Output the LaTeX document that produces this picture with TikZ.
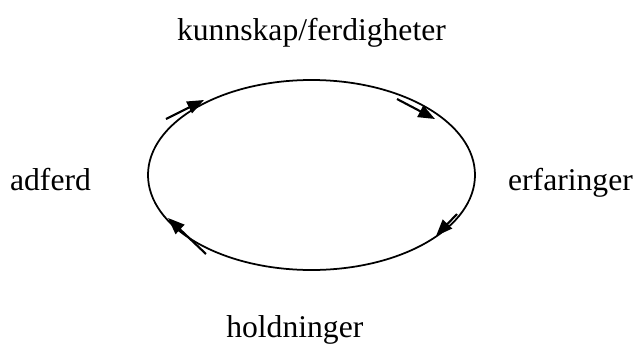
\documentclass[tikz,border=0pt]{standalone}
\usepackage{fontspec}
\setmainfont{Liberation Serif}
\usetikzlibrary{arrows.meta}

\begin{document}
\begin{tikzpicture}[>={Triangle[length=5mm,width=3.8mm]},
 lbl/.style={anchor=base,inner sep=0pt},step arrow/.style={->,line width=1.8pt},
 font=\fontsize{27}{32}\selectfont]
\useasboundingbox (-9.345,5.25) rectangle (9.705,-5.13);
\draw[line width=1.5pt] (0,0) ellipse (4.905cm and 2.85cm);
\node[lbl] (kunn) at (0,4.05) {kunnskap/ferdigheter};
\node[lbl] (erf) at (7.77,-.45) {erfaringer};
\node[lbl] (hold) at (-.5,-4.86) {holdninger};
\node[lbl] (adf) at (-7.83,-.45) {adferd};
% arrows along the circle
\coordinate (a1) at (-4.365,1.68); \coordinate (b1) at (-3.225,2.25);
\coordinate (a2) at (2.565,2.28); \coordinate (b2) at (3.705,1.68);
\coordinate (a3) at (4.365,-1.17); \coordinate (b3) at (3.735,-1.83);
\coordinate (a4) at (-3.165,-2.37); \coordinate (b4) at (-4.305,-1.29);
\draw[step arrow] (a1) -- (b1);
\draw[step arrow] (a2) -- (b2);
\draw[step arrow] (a3) -- (b3);
\draw[step arrow] (a4) -- (b4);
\end{tikzpicture}
\end{document}
